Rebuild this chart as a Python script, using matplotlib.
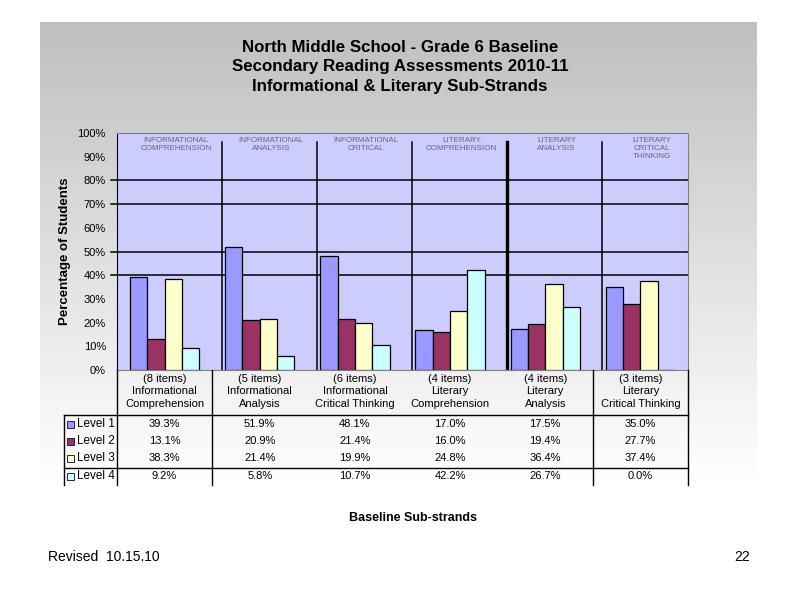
import numpy as np
import matplotlib.pyplot as plt
from matplotlib.lines import Line2D
from matplotlib.patches import Rectangle
import matplotlib.transforms as mtransforms
from matplotlib.ticker import PercentFormatter

plt.rcParams['font.family'] = ['Liberation Sans', 'DejaVu Sans']

# data
items = ['(8 items)', '(5 items)', '(6 items)', '(4 items)', '(4 items)', '(3 items)']
strand_names = ['Informational\nComprehension', 'Informational\nAnalysis',
                'Informational\nCritical Thinking', 'Literary\nComprehension',
                'Literary\nAnalysis', 'Literary\nCritical Thinking']
inner_labels = ['INFORMATIONAL\nCOMPREHENSION', 'INFORMATIONAL\nANALYSIS',
                'INFORMATIONAL\nCRITICAL', 'LITERARY\nCOMPREHENSION',
                'LITERARY\nANALYSIS', 'LITERARY\nCRITICAL\nTHINKING']
levels = ['Level 1', 'Level 2', 'Level 3', 'Level 4']
level1 = [39.3, 51.9, 48.1, 17.0, 17.5, 35.0]
level2 = [13.1, 20.9, 21.4, 16.0, 19.4, 27.7]
level3 = [38.3, 21.4, 19.9, 24.8, 36.4, 37.4]
level4 = [9.2, 5.8, 10.7, 42.2, 26.7, 0.0]
series = [level1, level2, level3, level4]
colors = ['#9999ff', '#993366', '#ffffcc', '#ccffff']

W, H = 800, 600
fig = plt.figure(figsize=(8, 6), dpi=100, facecolor='white')

# gray gradient panel behind the chart
bg = fig.add_axes([40 / W, 1 - 520 / H, 717 / W, 498 / H], zorder=0)
grad = np.linspace(0.75, 1.02, 256).reshape(-1, 1)
grad = np.clip(grad, 0, 1)
bg.imshow(np.dstack([grad, grad, grad]), aspect='auto', extent=[0, 1, 0, 1])
bg.axis('off')

# plot area
L, R, T, B = 117, 688, 133, 370
ax = fig.add_axes([L / W, 1 - B / H, (R - L) / W, (B - T) / H], zorder=1)
ax.set_facecolor('#ccccff')

n = len(items)
x = np.arange(n)
bw = 1 / 5.5
for i, (vals, c) in enumerate(zip(series, colors)):
    ax.bar(x + (i - 1.5) * bw, np.array(vals) / 100, width=bw, color=c,
           edgecolor='black', linewidth=0.9, zorder=3)

ax.set_xlim(-0.5, n - 0.5)
ax.set_ylim(0, 1)
ax.set_yticks(np.arange(0, 1.01, 0.1))
ax.yaxis.set_major_formatter(PercentFormatter(1.0, decimals=0))
ax.tick_params(axis='y', length=0, pad=8, labelsize=8)
ax.set_xticks([])
for s in ['top', 'right']:
    ax.spines[s].set_color('#808080')
ax.spines['left'].set_color('black')
ax.spines['bottom'].set_color('#808080')

# horizontal reference lines
for yv in [0.4, 0.5, 0.7, 0.8]:
    ax.axhline(yv, xmin=-0.01, xmax=1, color='black', lw=1.1, zorder=2, clip_on=False)

# vertical separators
for k, sx in enumerate(np.arange(n - 1) + 0.6):
    ax.plot([sx, sx], [0, 0.96], color='black', lw=2.4 if k == 3 else 1.1, zorder=4)

# faint labels inside the plot
for k, lab in enumerate(inner_labels):
    ax.text(k + 0.12, 0.985, lab, ha='center', va='top', fontsize=5.8,
            color='#666677', linespacing=1.25, zorder=5)

ax.set_ylabel('Percentage of Students', fontsize=9.5, fontweight='bold', labelpad=5)

# data table below the plot
trans = mtransforms.blended_transform_factory(ax.transData, ax.transAxes)
def ay(py):
    return (B - py) / (B - T)

for k in range(n):
    ax.text(k, ay(374), items[k] + '\n' + strand_names[k], transform=trans,
            ha='center', va='top', fontsize=8, linespacing=1.3, clip_on=False)
row_y = [424, 441, 458, 476]
for r, vals in enumerate(series):
    for k in range(n):
        ax.text(k, ay(row_y[r]), f'{vals[k]:.1f}%', transform=trans,
                ha='center', va='center', fontsize=8, clip_on=False)
    # row label with legend key
    fig.add_artist(Rectangle((67 / W, 1 - (row_y[r] + 3.5) / H), 7 / W, 7 / H,
                             facecolor=colors[r], edgecolor='#222244', lw=0.7,
                             transform=fig.transFigure))
    fig.text(77 / W, 1 - row_y[r] / H, levels[r], ha='left', va='center', fontsize=8.5)

def fline(x0, x1, y0, y1, lw=1.0):
    fig.add_artist(Line2D([x0 / W, x1 / W], [1 - y0 / H, 1 - y1 / H],
                          color='black', lw=lw, transform=fig.transFigure))

for px in [117, 212, 593, 688]:
    fline(px, px, B, 485)
fline(64, 64, 415, 485)
fline(64, 688, 415, 415)
fline(64, 688, 468, 468)

# titles and footer
fig.text(0.5, 1 - 47 / H, 'North Middle School - Grade 6 Baseline', ha='center', va='center',
         fontsize=12.2, fontweight='bold')
fig.text(0.5, 1 - 67 / H, 'Secondary Reading Assessments 2010-11', ha='center', va='center',
         fontsize=12.2, fontweight='bold')
fig.text(0.5, 1 - 87 / H, 'Informational & Literary Sub-Strands', ha='center', va='center',
         fontsize=12.2, fontweight='bold')
fig.text(413 / W, 1 - 518 / H, 'Baseline Sub-strands', ha='center', va='center',
         fontsize=9, fontweight='bold')
fig.text(48 / W, 1 - 557 / H, 'Revised  10.15.10', ha='left', va='center', fontsize=10)
fig.text(750 / W, 1 - 557 / H, '22', ha='right', va='center', fontsize=10)

fig.savefig('out.png', dpi=100, facecolor='white')
